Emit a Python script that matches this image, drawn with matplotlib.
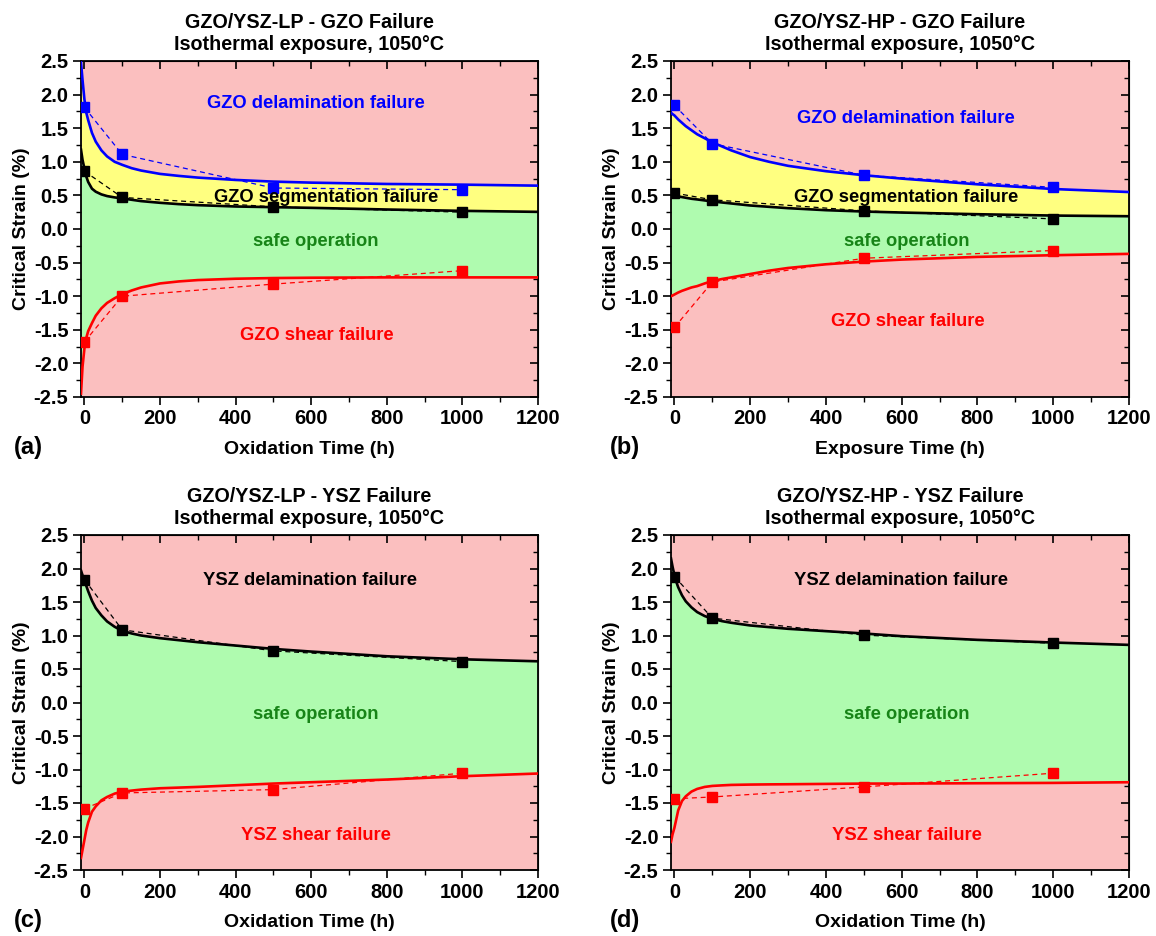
import matplotlib
matplotlib.use("Agg")
import matplotlib.pyplot as plt
from matplotlib.ticker import MultipleLocator, FormatStrFormatter

plt.rcParams['font.family'] = ['Liberation Sans', 'DejaVu Sans']
plt.rcParams['font.weight'] = 'bold'

# ---------------- data ----------------
time_pts = [0, 100, 500, 1000]
curve_x = [-9, -5, 0, 5, 10, 20, 30, 45, 60, 80, 100, 125, 150, 200, 250, 300, 400, 500, 600, 800, 1000, 1200]

# (a) GZO/YSZ-LP - GZO failure
a_delam_pts = [1.81, 1.11, 0.61, 0.585]
a_segm_pts = [0.86, 0.47, 0.33, 0.25]
a_shear_pts = [-1.68, -1.00, -0.82, -0.62]
a_delam_fit = [2.48, 2.22, 1.93, 1.73, 1.62, 1.43, 1.30, 1.17, 1.08, 1.00, 0.955, 0.905, 0.87, 0.82, 0.79, 0.765, 0.73, 0.705, 0.69, 0.67, 0.66, 0.645]
a_segm_fit = [1.18, 1.03, 0.90, 0.78, 0.70, 0.60, 0.555, 0.515, 0.49, 0.47, 0.455, 0.435, 0.415, 0.39, 0.37, 0.355, 0.335, 0.325, 0.315, 0.29, 0.27, 0.255]
a_shear_fit = [-2.45, -2.05, -1.78, -1.62, -1.52, -1.40, -1.29, -1.18, -1.10, -1.03, -0.97, -0.915, -0.87, -0.81, -0.78, -0.76, -0.74, -0.73, -0.725, -0.72, -0.72, -0.72]

# (b) GZO/YSZ-HP - GZO failure
b_delam_pts = [1.84, 1.27, 0.80, 0.62]
b_segm_pts = [0.535, 0.435, 0.27, 0.15]
b_shear_pts = [-1.465, -0.79, -0.435, -0.32]
b_delam_fit = [1.73, 1.71, 1.69, 1.66, 1.63, 1.58, 1.53, 1.47, 1.41, 1.35, 1.29, 1.23, 1.17, 1.07, 1.00, 0.94, 0.86, 0.80, 0.75, 0.665, 0.595, 0.55]
b_segm_fit = [0.51, 0.505, 0.50, 0.49, 0.485, 0.475, 0.465, 0.45, 0.44, 0.425, 0.41, 0.395, 0.38, 0.35, 0.33, 0.31, 0.28, 0.26, 0.245, 0.22, 0.20, 0.19]
b_shear_fit = [-1.00, -0.99, -0.975, -0.96, -0.945, -0.92, -0.90, -0.87, -0.85, -0.81, -0.775, -0.745, -0.72, -0.67, -0.62, -0.58, -0.525, -0.485, -0.455, -0.415, -0.39, -0.37]

# (c) GZO/YSZ-LP - YSZ failure
c_delam_pts = [1.835, 1.085, 0.77, 0.61]
c_shear_pts = [-1.586, -1.35, -1.30, -1.055]
c_delam_fit = [1.97, 1.90, 1.83, 1.74, 1.66, 1.52, 1.41, 1.30, 1.21, 1.13, 1.07, 1.03, 1.00, 0.96, 0.93, 0.90, 0.85, 0.80, 0.76, 0.69, 0.645, 0.615]
c_shear_fit = [-2.32, -2.20, -2.05, -1.90, -1.79, -1.63, -1.55, -1.46, -1.41, -1.36, -1.33, -1.315, -1.30, -1.28, -1.27, -1.26, -1.235, -1.21, -1.19, -1.15, -1.10, -1.06]

# (d) GZO/YSZ-HP - YSZ failure
d_delam_pts = [1.88, 1.26, 1.005, 0.885]
d_shear_pts = [-1.437, -1.41, -1.26, -1.055]
d_delam_fit = [2.15, 2.03, 1.90, 1.80, 1.72, 1.60, 1.51, 1.42, 1.35, 1.29, 1.25, 1.215, 1.19, 1.15, 1.125, 1.10, 1.065, 1.03, 0.99, 0.935, 0.895, 0.86]
d_shear_fit = [-2.08, -1.97, -1.87, -1.74, -1.61, -1.47, -1.40, -1.33, -1.29, -1.26, -1.245, -1.237, -1.23, -1.225, -1.222, -1.22, -1.215, -1.21, -1.21, -1.205, -1.20, -1.19]

titles = ["GZO/YSZ-LP - GZO Failure\nIsothermal exposure, 1050°C",
          "GZO/YSZ-HP - GZO Failure\nIsothermal exposure, 1050°C",
          "GZO/YSZ-LP - YSZ Failure\nIsothermal exposure, 1050°C",
          "GZO/YSZ-HP - YSZ Failure\nIsothermal exposure, 1050°C"]
xlabels = ["Oxidation Time (h)", "Exposure Time (h)", "Oxidation Time (h)", "Oxidation Time (h)"]
panel_labels = ["(a)", "(b)", "(c)", "(d)"]

PINK = '#FBBFBF'
YELLOW = '#FFFF80'
GREEN = '#AFFBAF'
TXT_GREEN = '#178417'
BLUE = '#0000FF'
RED = '#FF0000'

fig = plt.figure(figsize=(11.56, 9.36), dpi=100)
W, H = 1156, 936
rects = [(81, 61, 538, 397), (671, 61, 1129, 397), (81, 535, 538, 870), (671, 535, 1129, 870)]
axes = []
for (l, t, r, b) in rects:
    axes.append(fig.add_axes([l / W, 1 - b / H, (r - l) / W, (b - t) / H]))


def style(ax, i):
    ax.set_facecolor(PINK)
    ax.xaxis.set_major_locator(MultipleLocator(200))
    ax.xaxis.set_minor_locator(MultipleLocator(100))
    ax.yaxis.set_major_locator(MultipleLocator(0.5))
    ax.yaxis.set_minor_locator(MultipleLocator(0.25))
    ax.yaxis.set_major_formatter(FormatStrFormatter('%.1f'))
    ax.tick_params(which='major', direction='out', length=6, width=1.2, labelsize=14.5, pad=3)
    ax.tick_params(which='minor', direction='out', length=3.5, width=1.0)
    for s in ax.spines.values():
        s.set_linewidth(1.3)
    top = ax.secondary_xaxis('top')
    top.xaxis.set_major_locator(MultipleLocator(200))
    top.xaxis.set_minor_locator(MultipleLocator(100))
    top.tick_params(which='major', direction='in', length=6, width=1.2, labeltop=False)
    top.tick_params(which='minor', direction='in', length=3.5, width=1.0)
    right = ax.secondary_yaxis('right')
    right.yaxis.set_major_locator(MultipleLocator(0.5))
    right.yaxis.set_minor_locator(MultipleLocator(0.25))
    right.tick_params(which='major', direction='in', length=6, width=1.2, labelright=False)
    right.tick_params(which='minor', direction='in', length=3.5, width=1.0)
    ax.set_title(titles[i], fontsize=14.2, fontweight='bold', pad=8, linespacing=1.2)
    ax.set_xlabel(xlabels[i], fontsize=14, fontweight='bold', labelpad=9)
    ax.set_ylabel("Critical Strain (%)", fontsize=14, fontweight='bold', labelpad=3)


def finish(ax):
    ax.set_xlim(-9, 1200)
    ax.set_ylim(-2.5, 2.5)


def draw(ax, fits, pts, colors):
    for fit, p, c in zip(fits, pts, colors):
        ax.plot(curve_x, fit, color=c, lw=1.9, zorder=4)
        ax.plot(time_pts, p, color=c, lw=0.9, ls=(0, (4, 3)), marker='s', ms=6.5, zorder=5)


# (a), (b) with segmentation band
for i, (dl, sg, sh, dlp, sgp, shp) in enumerate([
        (a_delam_fit, a_segm_fit, a_shear_fit, a_delam_pts, a_segm_pts, a_shear_pts),
        (b_delam_fit, b_segm_fit, b_shear_fit, b_delam_pts, b_segm_pts, b_shear_pts)]):
    ax = axes[i]
    style(ax, i)
    ax.fill_between(curve_x, sg, dl, color=YELLOW, lw=0, zorder=1)
    ax.fill_between(curve_x, sh, sg, color=GREEN, lw=0, zorder=1)
    draw(ax, [dl, sg, sh], [dlp, sgp, shp], [BLUE, 'black', RED])
    finish(ax)

# (c), (d)
for i, (dl, sh, dlp, shp) in enumerate([
        (c_delam_fit, c_shear_fit, c_delam_pts, c_shear_pts),
        (d_delam_fit, d_shear_fit, d_delam_pts, d_shear_pts)], start=2):
    ax = axes[i]
    style(ax, i)
    ax.fill_between(curve_x, sh, dl, color=GREEN, lw=0, zorder=1)
    draw(ax, [dl, sh], [dlp, shp], ['black', RED])
    finish(ax)

fs_ann = 13.2
kw = dict(ha='center', va='center', fontsize=fs_ann, fontweight='bold', zorder=6)
axes[0].text(612, 1.87, "GZO delamination failure", color=BLUE, **kw)
axes[0].text(639, 0.475, "GZO segmentation failure", color='black', **kw)
axes[0].text(612, -0.18, "safe operation", color=TXT_GREEN, **kw)
axes[0].text(616, -1.59, "GZO shear failure", color=RED, **kw)
axes[1].text(612, 1.64, "GZO delamination failure", color=BLUE, **kw)
axes[1].text(612, 0.465, "GZO segmentation failure", color='black', **kw)
axes[1].text(612, -0.18, "safe operation", color=TXT_GREEN, **kw)
axes[1].text(617, -1.38, "GZO shear failure", color=RED, **kw)
axes[2].text(598, 1.82, "YSZ delamination failure", color='black', **kw)
axes[2].text(612, -0.18, "safe operation", color=TXT_GREEN, **kw)
axes[2].text(612, -1.99, "YSZ shear failure", color=RED, **kw)
axes[3].text(599, 1.82, "YSZ delamination failure", color='black', **kw)
axes[3].text(613, -0.18, "safe operation", color=TXT_GREEN, **kw)
axes[3].text(613, -1.99, "YSZ shear failure", color=RED, **kw)

for lab, (x, y) in zip(panel_labels, [(28, 447), (625, 447), (28, 920), (625, 920)]):
    fig.text(x / W, 1 - y / H, lab, fontsize=17, fontweight='bold', ha='center', va='center')

fig.savefig("out.png", dpi=100)
